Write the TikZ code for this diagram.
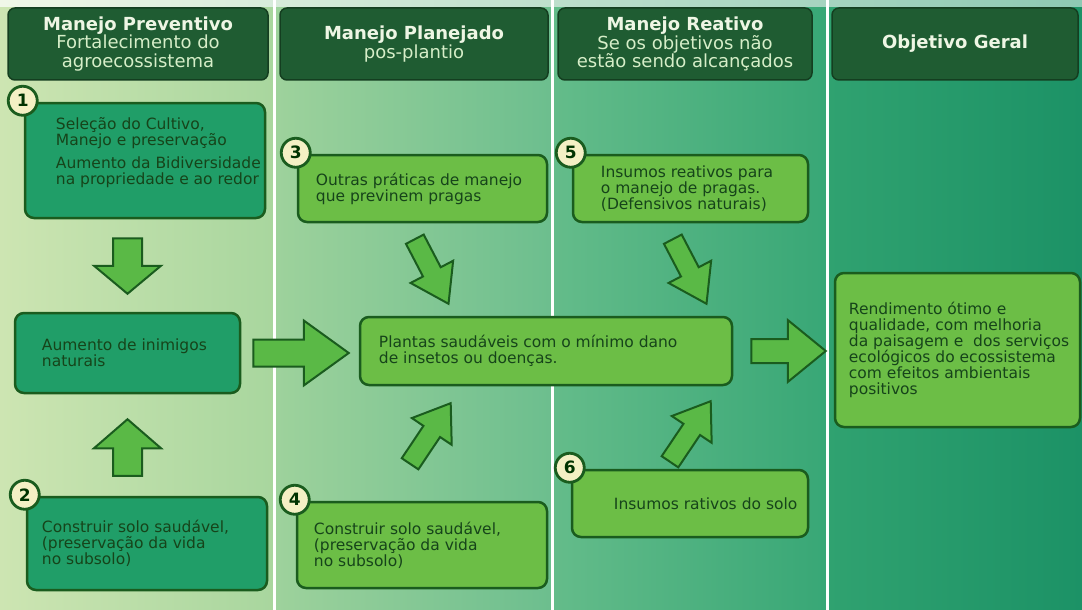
\documentclass[tikz,border=0pt]{standalone}
\usepackage{fontspec}
\setmainfont{DejaVu Sans}
\usepackage{tikz}
\usetikzlibrary{calc,positioning}
\usepackage{xcolor}
\definecolor{headgreen}{RGB}{31,92,50}
\definecolor{headline}{RGB}{20,62,32}
\definecolor{linegreen}{RGB}{26,92,30}
\definecolor{tealbox}{RGB}{32,158,104}
\definecolor{limebox}{RGB}{108,190,70}
\definecolor{arrowgreen}{RGB}{90,185,70}
\definecolor{numfill}{RGB}{244,240,196}
\definecolor{txtgreen}{RGB}{22,68,26}
\definecolor{headtxt}{RGB}{238,246,228}
\definecolor{subtxt}{RGB}{214,238,200}
\definecolor{colA}{RGB}{205,229,178}
\definecolor{colB}{RGB}{168,214,158}
\definecolor{colC}{RGB}{158,210,156}
\definecolor{colD}{RGB}{108,190,142}
\definecolor{colE}{RGB}{100,188,138}
\definecolor{colF}{RGB}{56,167,118}
\definecolor{colG}{RGB}{48,162,112}
\definecolor{colH}{RGB}{28,146,102}

\begin{document}
\begin{tikzpicture}[x=1pt,y=-1pt,
  head/.style={draw=headline,fill=headgreen,line width=1.5pt,rounded corners=7pt,minimum height=72pt,inner sep=0pt,align=center,text=subtxt,font=\fontsize{18}{18.5}\selectfont},
  box/.style={draw=linegreen,line width=2.5pt,rounded corners=9pt,inner sep=0pt},
  boxtxt/.style={align=left,text=txtgreen,inner sep=0pt,font=\fontsize{15.5}{16}\selectfont},
  num/.style={circle,draw=linegreen,line width=2.8pt,fill=numfill,minimum size=29pt,inner sep=0pt,text=black!80!green,font=\fontsize{17}{17}\selectfont\bfseries},
  fat/.style n args={5}{draw=linegreen,fill=arrowgreen,line width=2pt,
    to path={let \p1=(\tikztostart), \p2=(\tikztotarget), \p3=($(\p1)!#1!(\p2)$), \p4=($(\p2)!#2!(\p1)$), \p5=($(\p4)!#5!(\p3)$) in
      ($(\p3)!#3!90:(\p4)$) -- ($(\p5)!#3!90:(\p4)$) -- ($(\p5)!#4!90:(\p4)$) -- (\p4)
      -- ($(\p5)!#4!-90:(\p4)$) -- ($(\p5)!#3!-90:(\p4)$) -- ($(\p3)!#3!-90:(\p4)$) -- cycle}}]
\useasboundingbox (0,0) rectangle (1082,610);
\foreach \xa/\xb/\ca/\cb in {0/274/colA/colB,274/552/colC/colD,552/827/colE/colF,827/1082/colG/colH}
  \fill[left color=\ca,right color=\cb] (\xa,0) rectangle (\xb,610);
\fill[left color=white!70!colA,middle color=white,right color=colH!50!white] (0,0) rectangle (1082,7);
\foreach \sx in {274,552,827}
  \draw[white,line width=3pt] (\sx,0)--(\sx,610);

\node[head,minimum width=260pt] (hPrev) at (138,44) {\textcolor{headtxt}{\textbf{Manejo Preventivo}}\\Fortalecimento do\\agroecossistema};
\node[head,minimum width=268pt] (hPlan) at (414,44) {\textcolor{headtxt}{\textbf{Manejo Planejado}}\\pos-plantio};
\node[head,minimum width=254pt] (hReat) at (685,44) {\textcolor{headtxt}{\textbf{Manejo Reativo}}\\Se os objetivos não\\estão sendo alcançados};
\node[head,minimum width=246pt] (hObj) at (955,44) {\textcolor{headtxt}{\textbf{Objetivo Geral}}};

\foreach \nm/\cx/\cy/\w/\h/\col/\pad/\dy/\txt in {
  bSel/145/160.5/240/115/tealbox/32/8/{Seleção do Cultivo,\\Manejo e preservação\\[7pt]Aumento da Bidiversidade\\na propriedade e ao redor},
  bIni/127.5/353/225/80/tealbox/28/0/{Aumento de inimigos\\naturais},
  bSolo1/147/543.5/240/93/tealbox/16/0/{Construir solo saudável,\\(preservação da vida\\no subsolo)},
  bPrat/422.5/188.5/249/67/limebox/19/0/{Outras práticas de manejo\\que previnem pragas},
  bPlan/546/351/372/68/limebox/20/0/{Plantas saudáveis com o mínimo dano\\de insetos ou doenças.},
  bSolo2/422/545/250/86/limebox/18/0/{Construir solo saudável,\\(preservação da vida\\no subsolo)},
  bInsu/690.5/188.5/235/67/limebox/29/0/{Insumos reativos para\\o manejo de pragas.\\(Defensivos naturais)},
  bRati/690/503.5/236/67/limebox/43/0/{Insumos rativos do solo},
  bRend/957.5/350/245/154/limebox/15/0/{Rendimento ótimo e\\qualidade, com melhoria\\da paisagem e~ dos serviços\\ecológicos do ecossistema\\com efeitos ambientais\\positivos}} {
  \node[box,fill=\col,minimum width=\w pt,minimum height=\h pt] (\nm) at (\cx,\cy) {};
  \node[boxtxt,right=\pad pt of \nm.west,yshift=\dy pt] (t\nm) {\txt};}

\foreach \n/\b in {1/bSel,2/bSolo1,3/bPrat,4/bSolo2,5/bInsu,6/bRati}
  \node[num] (n\n) at ([shift={(-1pt,1pt)}]\b.north west) {\n};

\path[fat={19pt}{18pt}{14.5pt}{33.5pt}{28pt}] (bSel.south -| bIni.north) to (bIni.north);
\path[fat={20pt}{25pt}{14.5pt}{33.5pt}{29pt}] (bSolo1.north -| bIni.south) to (bIni.south);
\path[fat={12pt}{10pt}{13.5pt}{32.5pt}{45pt}] (bIni.east) to (bIni.east -| bPlan.west);
\path[fat={18pt}{8pt}{12pt}{31pt}{38pt}] (bPlan.east) to (bPlan.east -| bRend.west);
\path[fat={18pt}{13.5pt}{10pt}{24pt}{36pt}] ([xshift=-16pt]bPrat.south) to ($(bPlan.north west)+(96,0)$);
\path[fat={44.5pt}{20.4pt}{10pt}{24pt}{34pt}] ([xshift=-36.7pt]bSolo2.north) to ($(bPlan.south west)+(103.3,0)$);
\path[fat={18pt}{13.5pt}{10pt}{24pt}{36pt}] ([xshift=-26pt]bInsu.south) to ($(bPlan.north west)+(354,0)$);
\path[fat={8.4pt}{18pt}{10pt}{24pt}{34pt}] ([xshift=-24.7pt]bRati.north) to ($(bPlan.south west)+(362,0)$);
\end{tikzpicture}
\end{document}
